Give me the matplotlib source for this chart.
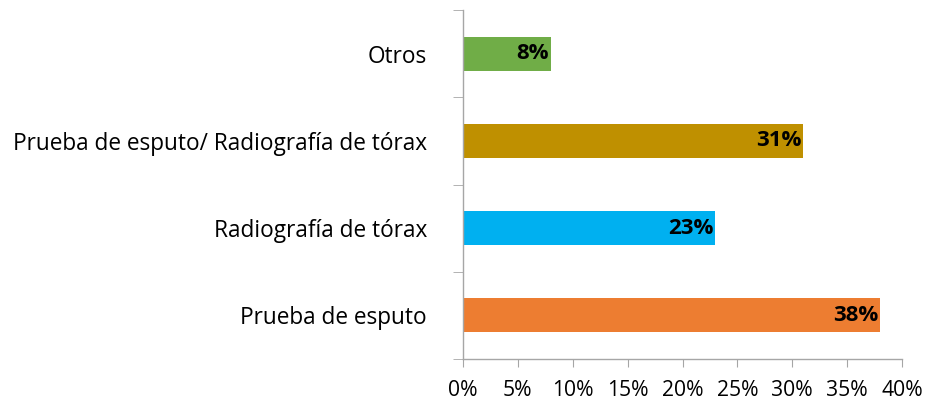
import matplotlib
matplotlib.use("Agg")
import matplotlib.pyplot as plt
from matplotlib.ticker import FixedLocator, PercentFormatter

categories = ["Prueba de esputo", "Radiografía de tórax",
              "Prueba de esputo/ Radiografía de tórax", "Otros"]
values = [38, 23, 31, 8]
colors = ["#ED7D31", "#00B0F0", "#BF9000", "#70AD47"]
xticks = [0, 5, 10, 15, 20, 25, 30, 35, 40]

plt.rcParams["font.family"] = ["Open Sans", "DejaVu Sans"]

W, H = 929, 407
fig = plt.figure(figsize=(W / 100, H / 100), dpi=100)
ax = fig.add_axes([463 / W, 1 - 359 / H, (902 - 463) / W, (359 - 10) / H])

pos = range(len(categories))
ax.barh(pos, values, height=0.39, color=colors)
for y, v in zip(pos, values):
    ax.text(v - 0.15, y, f"{v}%", ha="right", va="center",
            fontsize=16, fontweight="bold", color="black")

ax.set_xlim(0, 40)
ax.set_ylim(-0.5, len(categories) - 0.5)
ax.set_xticks(xticks)
ax.xaxis.set_major_formatter(PercentFormatter(decimals=0))
ax.set_yticks(list(pos))
ax.set_yticklabels(categories)
ax.yaxis.set_minor_locator(FixedLocator([i - 0.5 for i in range(len(categories) + 1)]))

for side in ("top", "right"):
    ax.spines[side].set_visible(False)
for side in ("left", "bottom"):
    ax.spines[side].set_color("#A6A6A6")
    ax.spines[side].set_linewidth(1.0)

ax.tick_params(axis="y", which="major", length=0, pad=26, labelsize=16.3)
ax.tick_params(axis="y", which="minor", length=7, color="#A6A6A6", direction="out")
ax.tick_params(axis="x", length=6, color="#A6A6A6", direction="out",
               pad=9, labelsize=15.2)

fig.savefig("out.png", dpi=100)
